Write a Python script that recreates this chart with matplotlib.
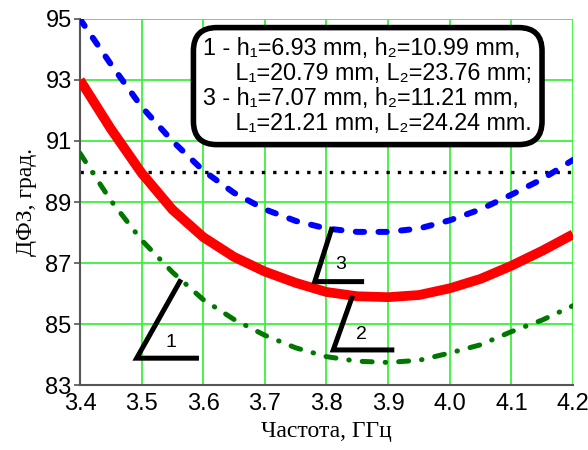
import matplotlib
matplotlib.use("Agg")
from matplotlib import pyplot as plt

# Частота, ГГц
freq = [3.40, 3.45, 3.50, 3.55, 3.60, 3.65, 3.70, 3.75, 3.80,
        3.85, 3.90, 3.95, 4.00, 4.05, 4.10, 4.15, 4.20]
# кривая 3 (синяя, штрих)
dfz_3 = [95.0, 93.52, 92.12, 91.00, 90.03, 89.30, 88.76, 88.38, 88.13,
         88.02, 88.02, 88.13, 88.40, 88.76, 89.24, 89.75, 90.38]
# кривая 2 (красная, сплошная)
dfz_2 = [93.0, 91.40, 89.95, 88.75, 87.85, 87.20, 86.72, 86.35, 86.05,
         85.91, 85.88, 85.95, 86.17, 86.48, 86.91, 87.40, 87.94]
# кривая 1 (зелёная, штрих-пунктир)
dfz_1 = [90.60, 89.05, 87.75, 86.70, 85.80, 85.15, 84.63, 84.22, 83.93,
         83.78, 83.74, 83.81, 84.05, 84.32, 84.75, 85.13, 85.60]
level = 90

xticks = [3.4, 3.5, 3.6, 3.7, 3.8, 3.9, 4.0, 4.1, 4.2]
xlabels = ["3.4", "3.5", "3.6", "3.7", "3.8", "3.9", "4.0", "4.1", "4.2"]
yticks = [83, 85, 87, 89, 91, 93, 95]

sans = ["Liberation Sans", "DejaVu Sans"]
serif = ["Liberation Serif", "DejaVu Serif"]

fig = plt.figure(figsize=(5.88, 4.5), dpi=100)
ax = fig.add_axes([0.136, 0.1444, 0.8385, 0.8134])

ax.plot(freq, dfz_2, color="#ff0000", lw=7, solid_capstyle="butt", zorder=3)
ax.plot(freq, dfz_3, color="#0000ff", lw=4.3, dashes=(1.4, 2.4),
        dash_capstyle="round", zorder=3)
ax.plot(freq, dfz_1, color="#007800", lw=3.6, dashes=(2, 2.6, 0.1, 2.6),
        dash_capstyle="round", zorder=3)
ax.plot([xticks[0], xticks[-1]], [level, level], color="black", lw=2.4,
        dashes=(1, 2.4), zorder=2)

# уголки-выноски
ax.plot([3.562, 3.492, 3.589], [86.39, 83.88, 83.88], color="black", lw=3.6,
        solid_joinstyle="miter", zorder=4)
ax.text(3.547, 84.4, "1", fontsize=14, family=sans, ha="center", va="center")
ax.plot([3.841, 3.811, 3.906], [85.85, 84.15, 84.15], color="black", lw=3.6,
        solid_joinstyle="miter", zorder=4)
ax.text(3.857, 84.67, "2", fontsize=14, family=sans, ha="center", va="center")
ax.plot([3.808, 3.781, 3.857], [88.1, 86.39, 86.39], color="black", lw=3.6,
        solid_joinstyle="miter", zorder=4)
ax.text(3.823, 86.95, "3", fontsize=14, family=sans, ha="center", va="center")

txt = ("1 - h\u2081=6.93 mm, h\u2082=10.99 mm,\n"
       "     L\u2081=20.79 mm, L\u2082=23.76 mm;\n"
       "3 - h\u2081=7.07 mm, h\u2082=11.21 mm,\n"
       "     L\u2081=21.21 mm, L\u2082=24.24 mm.")
ax.text(3.600, 92.8, txt, fontsize=16.8, family=sans, ha="left", va="center",
        linespacing=1.1, zorder=5,
        bbox=dict(boxstyle="round,pad=0.42,rounding_size=1.0", fc="white",
                  ec="black", lw=4))

ax.set_xlim(3.4, 4.2)
ax.set_ylim(83, 95)
ax.set_xticks(xticks)
ax.set_xticklabels(xlabels)
ax.set_yticks(yticks)
ax.grid(True, color="#3cf03c", lw=1.3, zorder=0)
ax.set_axisbelow(True)
for lab in ax.get_xticklabels() + ax.get_yticklabels():
    lab.set_family(sans)
    lab.set_fontsize(17)
ax.tick_params(axis="both", length=4, width=1.2, color="#555555", pad=2)
ax.tick_params(axis="x", length=0, pad=6)
ax.spines["left"].set_color("#555555")
ax.spines["bottom"].set_color("#555555")
ax.spines["left"].set_linewidth(1.5)
ax.spines["bottom"].set_linewidth(1.5)
ax.spines["top"].set_visible(False)
ax.spines["right"].set_visible(False)

ax.set_xlabel("Частота, ГГц", fontsize=17, family=serif, labelpad=4)
ax.set_ylabel("ДФЗ, град.", fontsize=17, family=serif, labelpad=6)

fig.savefig("out.png", dpi=100)
